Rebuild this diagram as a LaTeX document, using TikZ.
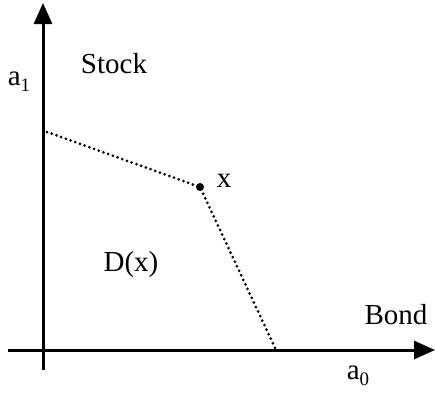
\documentclass[tikz,border=0pt]{standalone}
\usepackage{fontspec}
\setmainfont{Liberation Serif}
\usetikzlibrary{arrows.meta}
\tikzset{
  axis/.style={line width=3pt, -{Triangle[length=21pt,width=18pt]}},
  bound/.style={line width=3pt, line cap=round, dash pattern=on 0pt off 5pt},
  lbl/.style={font=\fontsize{29}{34}\selectfont, inner sep=0pt},
}
\newcommand{\subs}[1]{\raisebox{-0.2em}{\fontsize{19}{19}\selectfont #1}}
\begin{document}
\begin{tikzpicture}[x=1pt,y=-1pt]
\useasboundingbox (0,0) rectangle (435,392);
\coordinate (ybot) at (43,370);
\coordinate (ytop) at (43,3);
\coordinate (xleft) at (8,350);
\coordinate (xright) at (435,350);
\coordinate (p) at (47,132);
\coordinate (xpt) at (200,187);
\coordinate (q) at (276,350);
\draw[axis] (ybot) -- (ytop);
\draw[axis] (xleft) -- (xright);
\draw[bound] (p) -- (xpt) -- (q);
\fill (xpt) circle (4pt);
\node[lbl] (stock) at (114,64) {Stock};
\node[lbl] (a1) at (19,82) {a\subs{1}};
\node[lbl] (xl) at (224,181) {x};
\node[lbl] (dx) at (131,265) {D(x)};
\node[lbl] (bond) at (396,315) {Bond};
\node[lbl] (a0) at (358,376) {a\subs{0}};
\end{tikzpicture}
\end{document}
